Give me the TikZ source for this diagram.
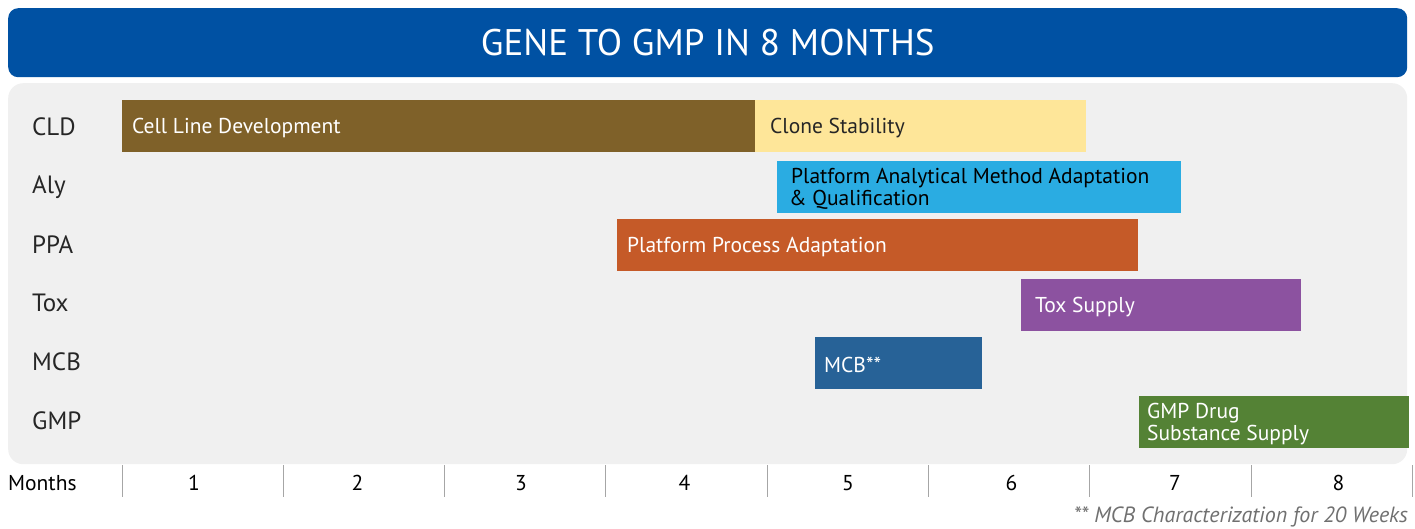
\documentclass[tikz,border=0pt]{standalone}
\usepackage{fontspec}
\setmainfont{PT Sans}
\usetikzlibrary{positioning}

\definecolor{titleblue}{HTML}{0051A3}
\definecolor{panelgrey}{HTML}{F0F0F0}
\definecolor{cldbrown}{HTML}{7F6129}
\definecolor{cloneyellow}{HTML}{FEE699}
\definecolor{alyblue}{HTML}{2AACE2}
\definecolor{ppaorange}{HTML}{C55A28}
\definecolor{toxpurple}{HTML}{8C52A0}
\definecolor{mcbblue}{HTML}{276297}
\definecolor{gmpgreen}{HTML}{548235}
\definecolor{tickgrey}{HTML}{A6A6A6}
\definecolor{notegrey}{HTML}{707070}

\begin{document}
\begin{tikzpicture}[x=1pt,y=-1pt,node distance=10pt,
  bar/.style={fill=#1, anchor=north west, minimum height=52pt, inner sep=0pt},
  barlabel/.style={text=white, inner sep=0pt, align=left, yshift=-2pt,
    font=\fontsize{21.5}{22}\selectfont},
  rowlabel/.style={anchor=west, inner sep=0pt, text=black!85,
    font=\fontsize{25}{25}\selectfont},
  month/.style={inner sep=0pt, font=\fontsize{21.5}{21.5}\selectfont}]

\useasboundingbox (0,0) rectangle (1415,528);

% title and panel
\node[fill=titleblue, rounded corners=10pt, minimum width=1399pt, minimum height=69pt,
  anchor=north west, text=white, font=\fontsize{37}{37}\selectfont] (title) at (8,8) {GENE TO GMP IN 8 MONTHS};
\node[fill=panelgrey, rounded corners=15pt, minimum width=1399pt, minimum height=381pt,
  anchor=north west] (panel) at (8,83) {};

% row names
\node[rowlabel] (rcld) at (32,127) {CLD};
\node[rowlabel] (raly) at (32,187) {Aly};
\node[rowlabel] (rppa) at (32,245) {PPA};
\node[rowlabel] (rtox) at (32,303) {Tox};
\node[rowlabel] (rmcb) at (32,362) {MCB};
\node[rowlabel] (rgmp) at (32,421) {GMP};

% bars
\node[bar=cldbrown, minimum width=633pt] (cld) at (122,100) {};
\node[barlabel, right=of cld.west] {Cell Line Development};
\node[bar=cloneyellow, minimum width=331pt] (clone) at (755,100) {};
\node[barlabel, text=black!85, right=15pt of clone.west] {Clone Stability};
\node[bar=alyblue, minimum width=404pt] (aly) at (777,161) {};
\node[barlabel, text=black, right=14pt of aly.west] {Platform Analytical Method Adaptation\\\hspace*{-2pt}\& Qualification};
\node[bar=ppaorange, minimum width=521pt] (ppa) at (617,219) {};
\node[barlabel, right=of ppa.west] {Platform Process Adaptation};
\node[bar=toxpurple, minimum width=280pt] (tox) at (1021,279) {};
\node[barlabel, right=14pt of tox.west] {Tox Supply};
\node[bar=mcbblue, minimum width=167pt] (mcb) at (815,337) {};
\node[barlabel, right=9pt of mcb.west] {MCB**};
\node[bar=gmpgreen, minimum width=270pt] (gmp) at (1139,396) {};
\node[barlabel, right=8pt of gmp.west] {GMP Drug\\Substance Supply};

% month axis
\node[month, anchor=west] (months) at (8,483) {Months};
\foreach \i in {0,...,8}
  \draw[tickgrey, line width=1pt] ({122+161.3*\i},465) -- ({122+161.3*\i},497);
\foreach \m in {1,...,8}
  \node[month] (m\m) at ({194+163.5*(\m-1)},483) {\m};

\node[anchor=east, inner sep=0pt, text=notegrey, font=\fontsize{22}{22}\selectfont\itshape] (note) at (1408,517)
  {** MCB Characterization for 20 Weeks};
\end{tikzpicture}
\end{document}
